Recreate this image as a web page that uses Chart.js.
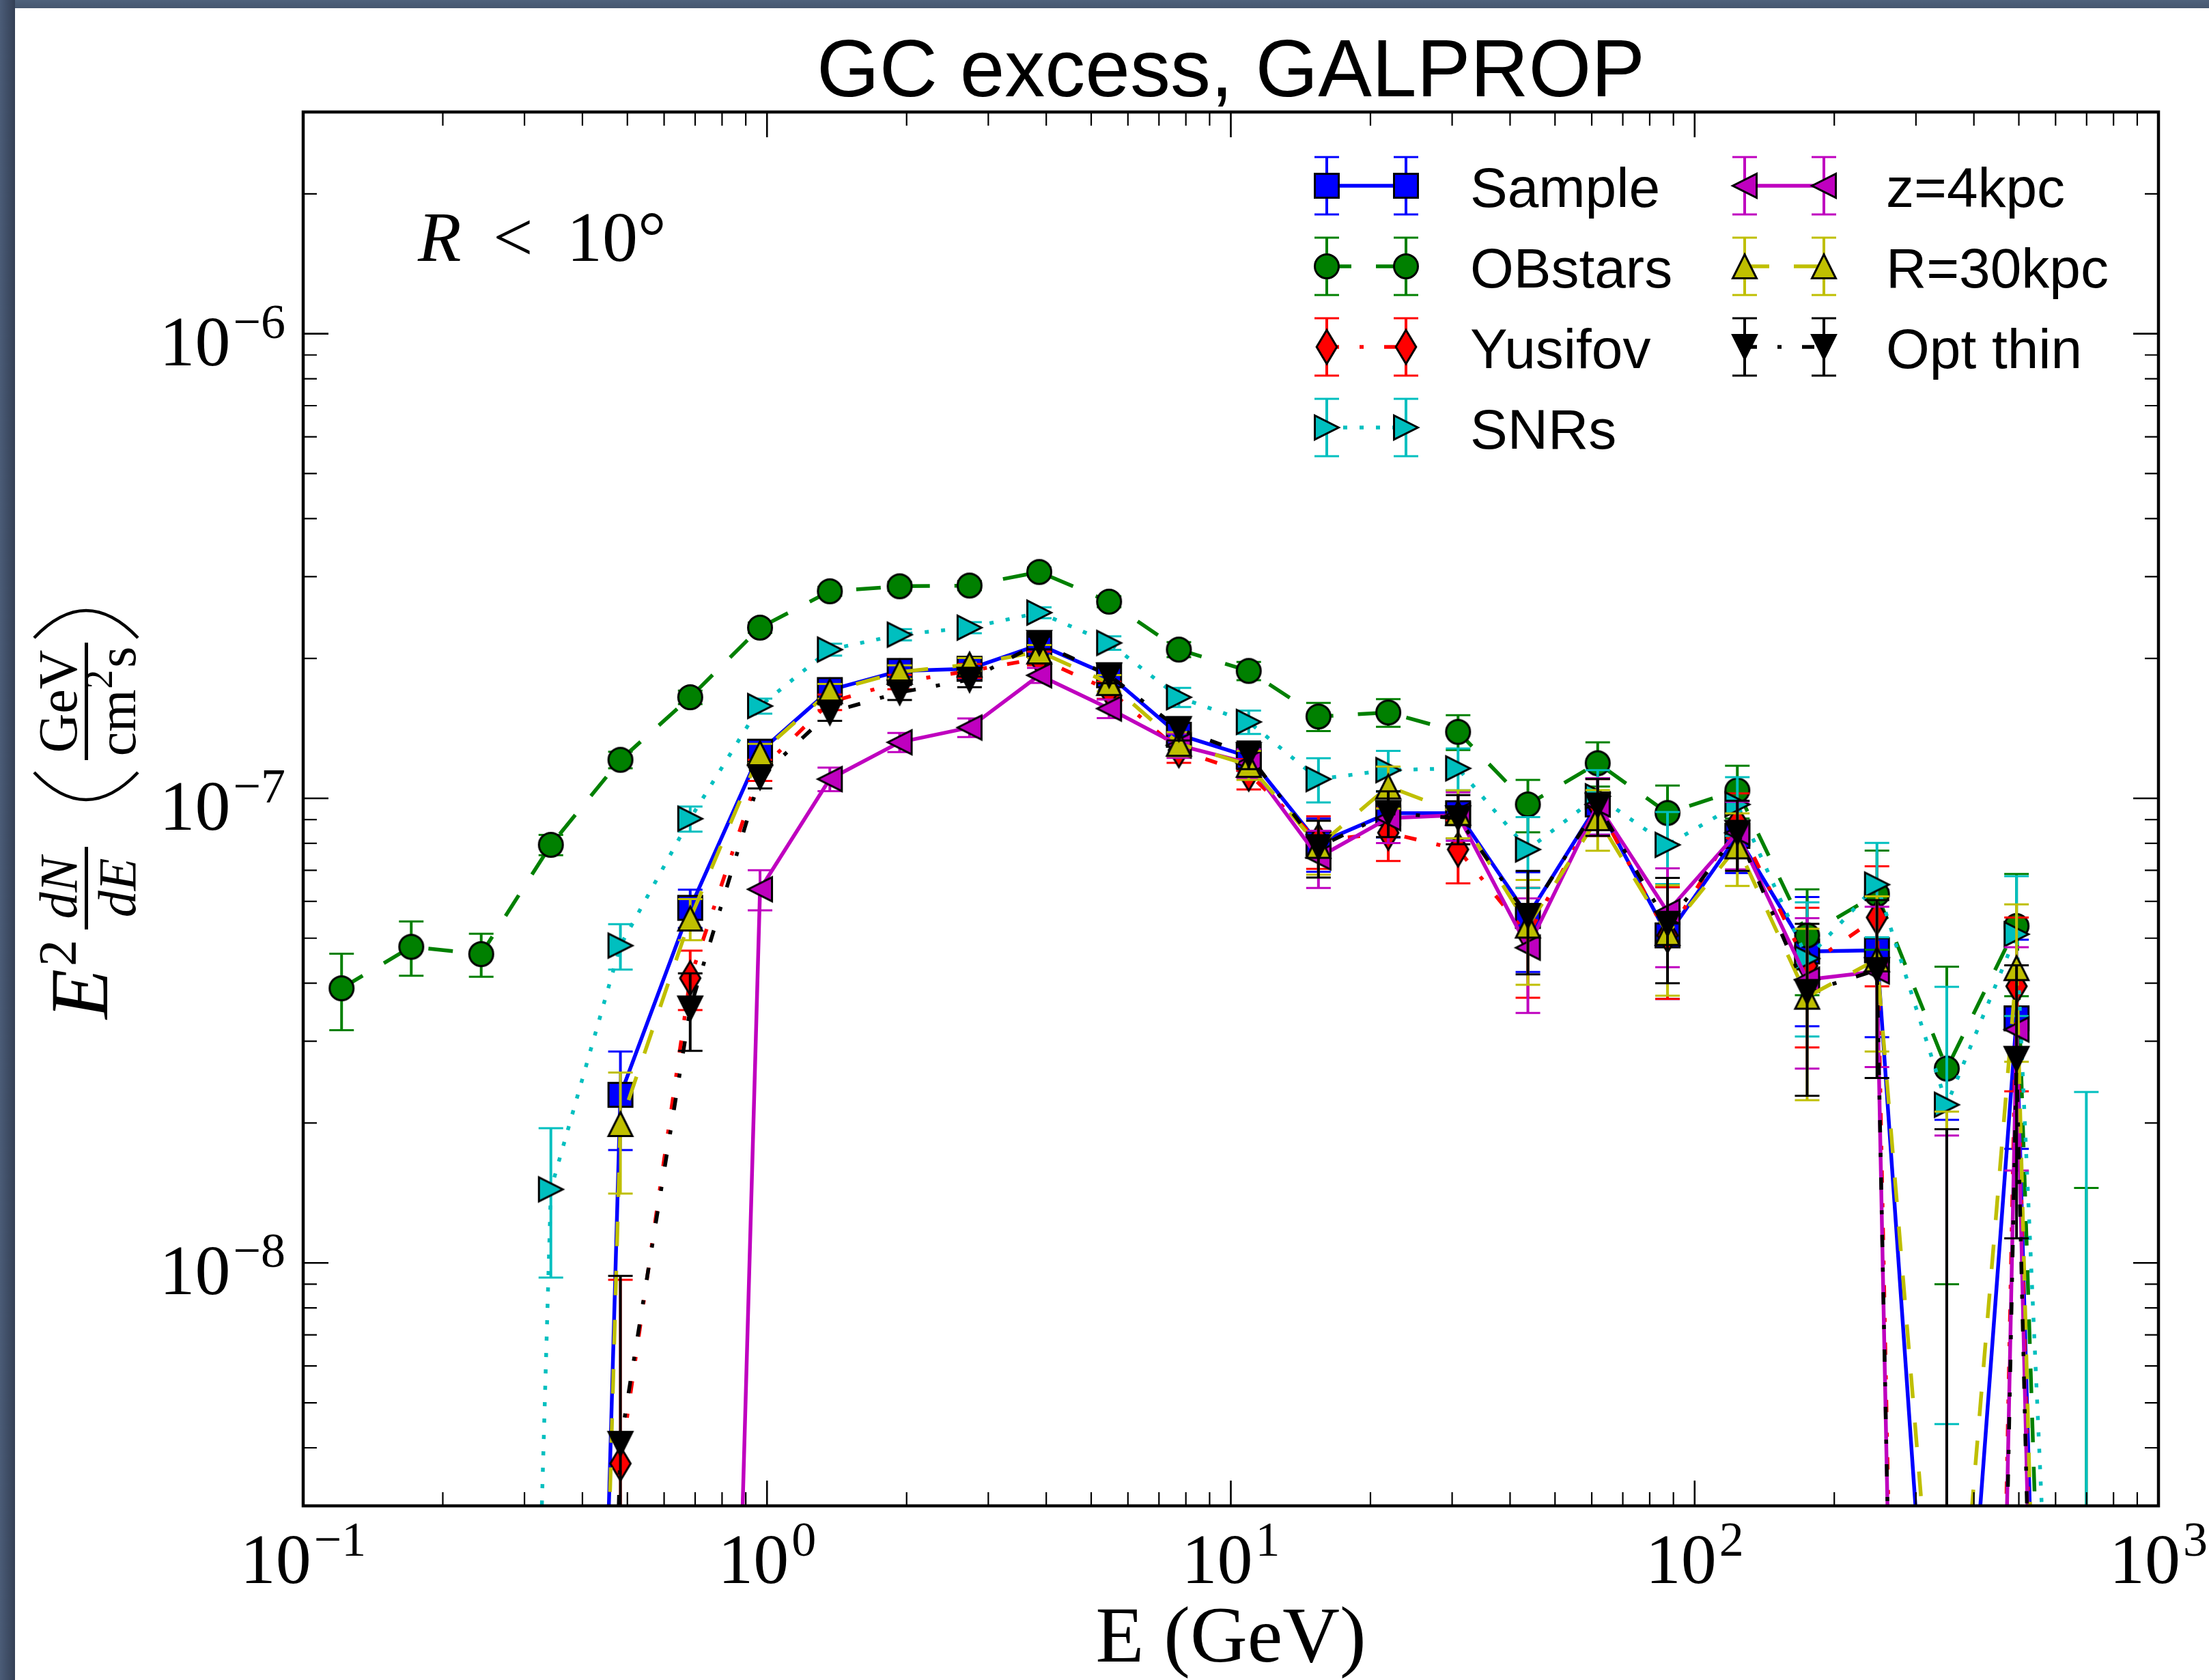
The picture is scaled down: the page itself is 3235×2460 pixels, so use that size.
<!DOCTYPE html>
<html>
<head>
<meta charset="utf-8">
<script src="https://cdn.jsdelivr.net/npm/chart.js@4.4.0/dist/chart.umd.min.js"></script>
<style>
  html, body { margin: 0; padding: 0; background: #fff; }
  canvas { display: block; }
</style>
</head>
<body>
<canvas id="gcExcess" width="3235" height="2460"></canvas>
<script>
// energy bin centres (GeV)
const energy = [0.121, 0.171, 0.242, 0.342, 0.483, 0.683, 0.966, 1.366, 1.932, 2.733, 3.864, 5.464, 7.727,
                10.93, 15.45, 21.85, 30.90, 43.70, 61.80, 87.40, 123.6, 174.8, 247.2, 349.6, 494.3, 699.0];

// E^2 dN/dE (GeV cm^-2 s^-1), values below the axis are the tiny fit results that pull the lines down
const sample  = [1e-14, 1e-14, 1e-14, 1.1e-13, 2.30e-8, 5.81e-8, 1.26e-7, 1.71e-7, 1.88e-7, 1.90e-7, 2.14e-7, 1.84e-7, 1.37e-7,
                 1.23e-7, 8.0e-8, 9.29e-8, 9.29e-8, 5.58e-8, 9.7e-8, 5.07e-8, 8.3e-8, 4.68e-8, 4.71e-8, 3.2e-10, 3.36e-8, 1e-13];
const obstars = [3.90e-8, 4.79e-8, 4.62e-8, 7.94e-8, 1.21e-7, 1.65e-7, 2.33e-7, 2.79e-7, 2.86e-7, 2.87e-7, 3.07e-7, 2.65e-7, 2.09e-7,
                 1.88e-7, 1.50e-7, 1.53e-7, 1.39e-7, 9.7e-8, 1.19e-7, 9.3e-8, 1.04e-7, 5.07e-8, 6.22e-8, 2.62e-8, 5.31e-8, 1e-12];
const yusifov = [1e-14, 1e-14, 1e-14, 1e-14, 3.70e-9, 4.10e-8, 1.15e-7, 1.61e-7, 1.78e-7, 1.88e-7, 2.00e-7, 1.71e-7, 1.27e-7,
                 1.13e-7, 8.1e-8, 8.43e-8, 7.76e-8, 5.07e-8, 9.65e-8, 5.07e-8, 8.85e-8, 4.36e-8, 5.54e-8, 1e-15, 3.94e-8, 1e-14];
const snrs    = [1e-14, 1e-14, 8e-14, 1.44e-8, 4.82e-8, 9.04e-8, 1.58e-7, 2.09e-7, 2.25e-7, 2.33e-7, 2.51e-7, 2.16e-7, 1.65e-7,
                 1.46e-7, 1.10e-7, 1.15e-7, 1.16e-7, 7.76e-8, 1.01e-7, 7.94e-8, 9.7e-8, 4.52e-8, 6.52e-8, 2.19e-8, 5.1e-8, 2e-11];
const z4kpc   = [1e-14, 1e-14, 1e-14, 1e-14, 1e-14, 3e-13, 6.37e-8, 1.10e-7, 1.32e-7, 1.42e-7, 1.84e-7, 1.56e-7, 1.30e-7,
                 1.19e-7, 7.46e-8, 9.06e-8, 9.2e-8, 4.77e-8, 9.7e-8, 5.7e-8, 8.43e-8, 4.07e-8, 4.24e-8, 1e-15, 3.18e-8, 1e-14];
const r30kpc  = [1e-14, 1e-14, 1e-14, 1e-13, 1.99e-8, 5.51e-8, 1.25e-7, 1.70e-7, 1.87e-7, 1.94e-7, 2.07e-7, 1.77e-7, 1.31e-7,
                 1.18e-7, 7.9e-8, 1.06e-7, 9.3e-8, 5.32e-8, 9.06e-8, 5.13e-8, 7.88e-8, 3.74e-8, 4.5e-8, 6.6e-10, 4.31e-8, 5e-14];
const optThin = [1e-14, 1e-14, 1e-14, 1e-14, 4.08e-9, 3.53e-8, 1.11e-7, 1.53e-7, 1.69e-7, 1.80e-7, 2.16e-7, 1.84e-7, 1.41e-7,
                 1.24e-7, 7.85e-8, 9.3e-8, 9.06e-8, 5.58e-8, 9.65e-8, 5.37e-8, 8.43e-8, 3.83e-8, 4.27e-8, 1e-15, 2.75e-8, 1e-14];

// 1 sigma errors
const sampleErr  = [0, 0, 0, 0, 5.5e-9, 5.5e-9, 6.0e-9, 6.2e-9, 6.3e-9, 6.5e-9, 6.8e-9, 7.2e-9, 7.8e-9,
                    8.5e-9, 1.05e-8, 1.05e-8, 1.1e-8, 1.35e-8, 1.35e-8, 1.37e-8, 1.4e-8, 1.45e-8, 1.65e-8, 2.0e-8, 1.6e-8, 0];
const obstarsErr = [7.3e-9, 6.4e-9, 4.9e-9, 4.0e-9, 5.0e-9, 5.5e-9, 6.0e-9, 6.2e-9, 6.3e-9, 6.5e-9, 6.8e-9, 7.2e-9, 7.8e-9,
                    8.5e-9, 1.05e-8, 1.05e-8, 1.2e-8, 1.25e-8, 1.3e-8, 1.35e-8, 1.35e-8, 1.3e-8, 1.5e-8, 1.72e-8, 1.56e-8, 1.45e-8];
const yusifovErr = [0, 0, 0, 0, 5.5e-9, 6.0e-9, 6.0e-9, 6.2e-9, 6.3e-9, 6.5e-9, 6.8e-9, 7.2e-9, 7.8e-9,
                    8.5e-9, 1.05e-8, 1.1e-8, 1.2e-8, 1.35e-8, 1.35e-8, 1.37e-8, 1.4e-8, 1.45e-8, 1.6e-8, 1.94e-8, 1.6e-8, 0];
const snrsErr    = [0, 0, 0, 5.1e-9, 5.4e-9, 5.6e-9, 5.9e-9, 6.2e-9, 6.3e-9, 6.5e-9, 6.8e-9, 7.2e-9, 7.8e-9,
                    8.5e-9, 1.2e-8, 1.15e-8, 1.2e-8, 1.35e-8, 1.4e-8, 1.4e-8, 1.4e-8, 1.45e-8, 1.5e-8, 1.74e-8, 1.7e-8, 2.33e-8];
const z4kpcErr   = [0, 0, 0, 0, 0, 0, 6.3e-9, 6.4e-9, 6.3e-9, 6.5e-9, 6.8e-9, 7.2e-9, 7.8e-9,
                    8.5e-9, 1.05e-8, 1.05e-8, 1.1e-8, 1.32e-8, 1.35e-8, 1.37e-8, 1.4e-8, 1.45e-8, 1.6e-8, 1.88e-8, 1.6e-8, 0];
const r30kpcErr  = [0, 0, 0, 0, 5.8e-9, 5.6e-9, 6.0e-9, 6.2e-9, 6.3e-9, 6.5e-9, 6.8e-9, 7.2e-9, 7.8e-9,
                    8.5e-9, 1.05e-8, 1.1e-8, 1.1e-8, 1.35e-8, 1.35e-8, 1.37e-8, 1.4e-8, 1.5e-8, 1.65e-8, 2.05e-8, 1.6e-8, 0];
const optThinErr = [0, 0, 0, 0, 5.3e-9, 6.7e-9, 6.0e-9, 6.2e-9, 6.3e-9, 6.5e-9, 6.8e-9, 7.2e-9, 7.8e-9,
                    8.5e-9, 1.1e-8, 1.05e-8, 1.1e-8, 1.4e-8, 1.35e-8, 1.37e-8, 1.45e-8, 1.54e-8, 1.77e-8, 1.94e-8, 1.62e-8, 0];

const xTickExp = [-1, 0, 1, 2, 3];
const yTickExp = [-8, -7, -6];

const PT = 6; // px per point
const DASHED = [6 * PT, 6 * PT];
const DASHDOT = [3 * PT, 5 * PT, 1 * PT, 5 * PT];
const DOTTED = [1 * PT, 3 * PT];

function marker(shape, fill) {
  const c = document.createElement('canvas');
  c.width = 72; c.height = 72;
  const g = c.getContext('2d');
  const ms = 35, h = ms / 2;
  g.translate(36, 36);
  g.beginPath();
  if (shape === 'o') g.arc(0, 0, h, 0, Math.PI * 2);
  else if (shape === 's') g.rect(-h, -h, ms, ms);
  else if (shape === 'd') {
    const a = ms * Math.SQRT1_2;
    g.moveTo(0, -a); g.lineTo(0.6 * a, 0); g.lineTo(0, a); g.lineTo(-0.6 * a, 0); g.closePath();
  } else if (shape === '^') { g.moveTo(0, -h); g.lineTo(h, h); g.lineTo(-h, h); g.closePath(); }
  else if (shape === 'v') { g.moveTo(0, h); g.lineTo(h, -h); g.lineTo(-h, -h); g.closePath(); }
  else if (shape === '>') { g.moveTo(h, 0); g.lineTo(-h, -h); g.lineTo(-h, h); g.closePath(); }
  else if (shape === '<') { g.moveTo(-h, 0); g.lineTo(h, -h); g.lineTo(h, h); g.closePath(); }
  g.fillStyle = fill; g.fill();
  g.lineWidth = 3; g.strokeStyle = '#000'; g.lineJoin = 'miter'; g.stroke();
  return c;
}

function series(label, vals, errs, color, dash, shape, order) {
  return {
    label: label,
    data: energy.map((e, i) => ({ x: e, y: vals[i] })),
    errors: errs,
    borderColor: color,
    borderWidth: 5.5,
    borderDash: dash,
    borderJoinStyle: 'round',
    pointStyle: marker(shape, color),
    pointRadius: 18,
    fill: false,
    tension: 0,
    clip: 0,
    order: order,
  };
}

const datasets = [
  series('Sample', sample, sampleErr, '#0000ff', [], 's', 6),
  series('OBstars', obstars, obstarsErr, '#008000', DASHED, 'o', 5),
  series('Yusifov', yusifov, yusifovErr, '#ff0000', DASHDOT, 'd', 4),
  series('SNRs', snrs, snrsErr, '#00bfbf', DOTTED, '>', 3),
  series('z=4kpc', z4kpc, z4kpcErr, '#bf00bf', [], '<', 2),
  series('R=30kpc', r30kpc, r30kpcErr, '#bfbf00', DASHED, '^', 1),
  series('Opt thin', optThin, optThinErr, '#000000', DASHDOT, 'v', 0),
];

function errorBar(ctx, x, yTop, yBot, capBot, color) {
  ctx.strokeStyle = color;
  ctx.setLineDash([]);
  ctx.lineWidth = 4;
  ctx.beginPath(); ctx.moveTo(x, yTop); ctx.lineTo(x, yBot); ctx.stroke();
  ctx.lineWidth = 3;
  ctx.beginPath();
  ctx.moveTo(x - 18, yTop); ctx.lineTo(x + 18, yTop);
  if (capBot) { ctx.moveTo(x - 18, yBot); ctx.lineTo(x + 18, yBot); }
  ctx.stroke();
}

const background = {
  id: 'background',
  beforeDraw(chart) {
    const ctx = chart.ctx, W = chart.width, H = chart.height;
    ctx.save();
    ctx.fillStyle = '#ffffff';
    ctx.fillRect(0, 0, W, H);
    const top = ctx.createLinearGradient(0, 0, 0, 12);
    top.addColorStop(0, '#4f627c'); top.addColorStop(1, '#46576f');
    ctx.fillStyle = top;
    ctx.fillRect(0, 0, W, 12);
    const left = ctx.createLinearGradient(0, 0, 22, 0);
    left.addColorStop(0, '#4b5c77'); left.addColorStop(1, '#333f55');
    ctx.fillStyle = left;
    ctx.fillRect(0, 0, 22, H);
    ctx.restore();
  }
};

const errorBars = {
  id: 'errorBars',
  beforeDatasetDraw(chart, args) {
    const ds = chart.data.datasets[args.index];
    const { ctx, chartArea: a } = chart;
    const ys = chart.scales.y;
    ctx.save();
    ctx.beginPath(); ctx.rect(a.left, a.top, a.right - a.left, a.bottom - a.top); ctx.clip();
    args.meta.data.forEach((pt, i) => {
      const v = ds.data[i].y, s = ds.errors[i];
      if (!s) return;
      const low = v - s;
      const yTop = ys.getPixelForValue(v + s);
      const yBot = low > 0 ? ys.getPixelForValue(low) : a.bottom + 30;
      errorBar(ctx, pt.x, yTop, yBot, low > 0, ds.borderColor);
    });
    ctx.restore();
  }
};

const frameTicks = {
  id: 'frameTicks',
  afterDatasetsDraw(chart) {
    const { ctx, chartArea: a, scales: { x, y } } = chart;
    ctx.save();
    ctx.strokeStyle = '#000';
    ctx.setLineDash([]);
    for (let d = -1; d <= 3; d++) {
      for (let m = 1; m <= 9; m++) {
        const v = m * Math.pow(10, d);
        if (v > 1000.001) continue;
        const px = x.getPixelForValue(v);
        const len = m === 1 ? 37 : 20;
        ctx.lineWidth = m === 1 ? 2.6 : 2.2;
        ctx.beginPath();
        ctx.moveTo(px, a.bottom); ctx.lineTo(px, a.bottom - len);
        ctx.moveTo(px, a.top); ctx.lineTo(px, a.top + len);
        ctx.stroke();
      }
    }
    for (let d = -9; d <= -6; d++) {
      for (let m = 1; m <= 9; m++) {
        const v = m * Math.pow(10, d);
        if (v < 3.0001e-9 || v > 2.9999e-6) continue;
        const py = y.getPixelForValue(v);
        const len = m === 1 ? 37 : 20;
        ctx.lineWidth = m === 1 ? 2.6 : 2.2;
        ctx.beginPath();
        ctx.moveTo(a.left, py); ctx.lineTo(a.left + len, py);
        ctx.moveTo(a.right, py); ctx.lineTo(a.right - len, py);
        ctx.stroke();
      }
    }
    ctx.lineWidth = 4.5;
    ctx.strokeRect(a.left, a.top, a.right - a.left, a.bottom - a.top);
    ctx.restore();
  }
};

const SERIF = '"Liberation Serif", "DejaVu Serif", serif';
const SANS = '"Liberation Sans", Arial, sans-serif';

function powerLabel(ctx, exp, x, baseline, align) {
  const expStr = exp < 0 ? '\u2212' + (-exp) : String(exp);
  ctx.font = '104px ' + SERIF;
  const w1 = ctx.measureText('10').width;
  ctx.font = '72px ' + SERIF;
  const w2 = ctx.measureText(expStr).width;
  const total = w1 + 4 + w2;
  const start = align === 'center' ? x - total / 2 : x - total;
  ctx.textAlign = 'left';
  ctx.font = '104px ' + SERIF;
  ctx.fillText('10', start, baseline);
  ctx.font = '72px ' + SERIF;
  ctx.fillText(expStr, start + w1 + 4, baseline - 40);
}

const texts = {
  id: 'texts',
  afterDraw(chart) {
    const { ctx, chartArea: a, scales: { x, y } } = chart;
    ctx.save();
    ctx.fillStyle = '#000';
    ctx.textBaseline = 'alphabetic';

    // title
    ctx.textAlign = 'center';
    ctx.font = '118px ' + SANS;
    ctx.fillText('GC excess, GALPROP', (a.left + a.right) / 2, 141);

    // tick labels
    xTickExp.forEach(e => powerLabel(ctx, e, x.getPixelForValue(Math.pow(10, e)), 2318, 'center'));
    yTickExp.forEach(e => powerLabel(ctx, e, a.left - 26, y.getPixelForValue(Math.pow(10, e)) + 46, 'right'));

    // x label
    ctx.textAlign = 'center';
    ctx.font = '116px ' + SERIF;
    ctx.fillText('E (GeV)', (a.left + a.right) / 2, 2433);

    // region annotation
    ctx.textAlign = 'left';
    ctx.font = 'italic 104px ' + SERIF;
    ctx.fillText('R', 612, 382);
    ctx.font = '104px ' + SERIF;
    ctx.fillText('<', 722, 382);
    ctx.fillText('10\u00b0', 830, 382);

    // y label (rotated)
    ctx.save();
    ctx.translate(126, 1193);
    ctx.rotate(-Math.PI / 2);
    ctx.textAlign = 'left';
    ctx.font = 'italic 120px ' + SERIF;
    ctx.fillText('E', -299, 31);
    ctx.font = '78px ' + SERIF;
    ctx.fillText('2', -222, -16);
    ctx.textAlign = 'center';
    ctx.font = 'italic 78px ' + SERIF;
    ctx.fillText('dN', -107, -14);
    ctx.fillText('dE', -107, 72);
    ctx.fillRect(-168, -2, 121, 5);
    ctx.strokeStyle = '#000';
    ctx.lineWidth = 4.5;
    ctx.beginPath(); ctx.moveTo(62, -76); ctx.quadraticCurveTo(-18, 0, 62, 76); ctx.stroke();
    ctx.beginPath(); ctx.moveTo(259, -76); ctx.quadraticCurveTo(339, 0, 259, 76); ctx.stroke();
    ctx.font = '80px ' + SERIF;
    ctx.fillText('GeV', 166, -14);
    ctx.fillRect(80, -2, 172, 5);
    ctx.textAlign = 'left';
    const wcm = ctx.measureText('cm').width;
    ctx.font = '56px ' + SERIF;
    const w2 = ctx.measureText('2').width;
    const x0 = 166 - (wcm + w2 + 4 + 31) / 2;
    ctx.font = '80px ' + SERIF;
    ctx.fillText('cm', x0, 72);
    ctx.font = '56px ' + SERIF;
    ctx.fillText('2', x0 + wcm + 1, 38);
    ctx.font = '80px ' + SERIF;
    ctx.fillText('s', x0 + wcm + w2 + 4, 72);
    ctx.restore();

    // legend
    const cols = [{ x1: 1943, x2: 2059, tx: 2153 }, { x1: 2555, x2: 2671, tx: 2762 }];
    chart.data.datasets.forEach((ds, i) => {
      const col = cols[i < 4 ? 0 : 1];
      const row = i < 4 ? i : i - 4;
      const yy = 272 + row * 118;
      ctx.strokeStyle = ds.borderColor;
      ctx.lineWidth = ds.borderWidth;
      ctx.setLineDash(ds.borderDash);
      ctx.lineCap = 'butt';
      ctx.beginPath(); ctx.moveTo(col.x1, yy); ctx.lineTo(col.x2, yy); ctx.stroke();
      [col.x1, col.x2].forEach(mx => {
        errorBar(ctx, mx, yy - 42, yy + 42, true, ds.borderColor);
        const img = ds.pointStyle;
        ctx.drawImage(img, mx - img.width / 2, yy - img.height / 2);
      });
      ctx.fillStyle = '#000';
      ctx.textAlign = 'left';
      ctx.font = '82px ' + SANS;
      ctx.fillText(ds.label, col.tx, yy + 31);
    });
    ctx.restore();
  }
};

new Chart(document.getElementById('gcExcess'), {
  type: 'line',
  data: { datasets: datasets },
  options: {
    responsive: false,
    animation: false,
    devicePixelRatio: 1,
    layout: { padding: { left: 444, top: 164, right: 74, bottom: 255 } },
    scales: {
      x: { type: 'logarithmic', min: 0.1, max: 1000, display: false },
      y: { type: 'logarithmic', min: 3e-9, max: 3e-6, display: false },
    },
    plugins: {
      legend: { display: false },
      title: { display: false },
      tooltip: { enabled: false },
    },
  },
  plugins: [background, errorBars, frameTicks, texts],
});
</script>
</body>
</html>
